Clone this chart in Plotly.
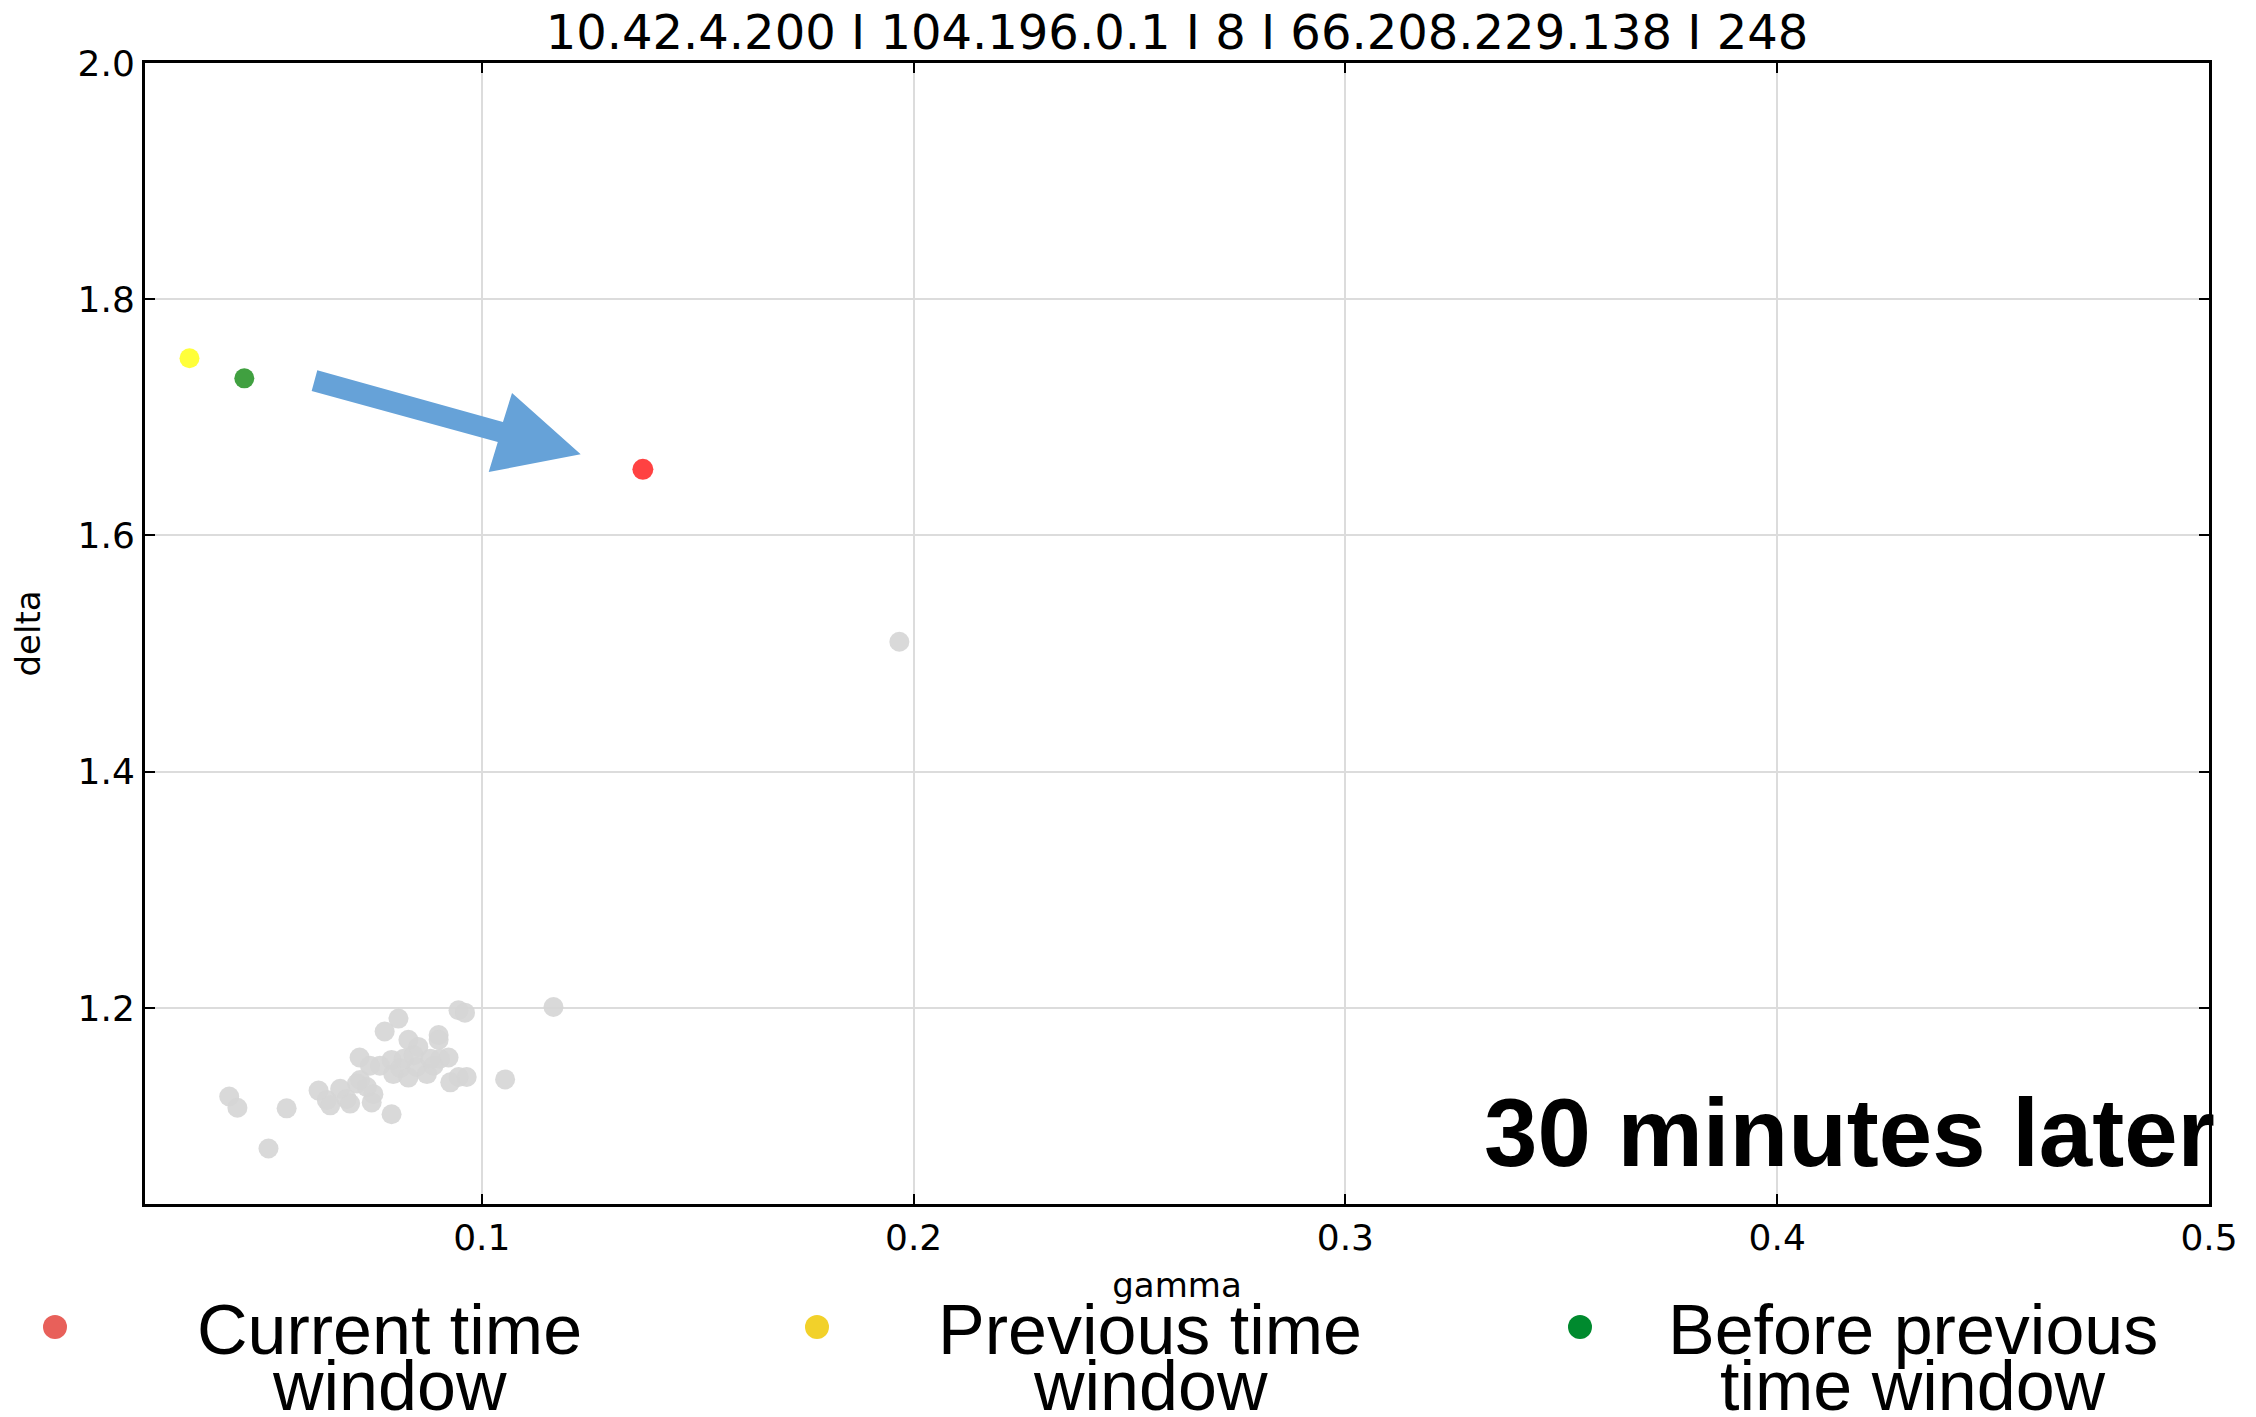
import plotly.graph_objects as go

# ---- data ----
bg_gamma = [0.1166, 0.0946, 0.0961, 0.0807, 0.0775, 0.0900, 0.0900, 0.0830, 0.0853, 0.0923,
            0.0717, 0.0791, 0.0764, 0.0741, 0.0811, 0.0849, 0.0888, 0.0903, 0.0795, 0.0830,
            0.0873, 0.0965, 0.0946, 0.0927, 0.1054, 0.0718, 0.0711, 0.0734, 0.0672, 0.0622,
            0.0641, 0.0649, 0.0687, 0.0695, 0.0749, 0.0745, 0.0791, 0.0548, 0.0415, 0.0434,
            0.0506, 0.0819, 0.0842, 0.0881, 0.1967]
bg_delta = [1.2008, 1.198, 1.196, 1.191, 1.180, 1.177, 1.173, 1.173, 1.167, 1.158,
            1.158, 1.156, 1.151, 1.151, 1.149, 1.150, 1.151, 1.157, 1.144, 1.141,
            1.144, 1.1415, 1.1415, 1.137, 1.1395, 1.139, 1.136, 1.133, 1.1316, 1.130,
            1.122, 1.1175, 1.123, 1.119, 1.127, 1.120, 1.110, 1.115, 1.125, 1.1155,
            1.081, 1.157, 1.160, 1.157, 1.510]

current_gamma, current_delta = [0.1373], [1.656]
previous_gamma, previous_delta = [0.0323], [1.750]
before_gamma, before_delta = [0.0450], [1.733]

x_ticks = [0.1, 0.2, 0.3, 0.4, 0.5]
y_ticks = [1.2, 1.4, 1.6, 1.8, 2.0]
x_range = [0.022, 0.5]
y_range = [1.034, 2.0]

title_text = "10.42.4.200 I 104.196.0.1 I 8 I 66.208.229.138 I 248"
legend_labels = [["Current time", "window"], ["Previous time", "window"], ["Before previous", "time window"]]
legend_colors = ["#e8605a", "#f2d12a", "#008a2e"]

# arrow outline (data coordinates)
arrow_x = [0.0619, 0.1049, 0.1070, 0.1229, 0.1016, 0.1037, 0.0606]
arrow_y = [1.7399, 1.6961, 1.7206, 1.6687, 1.6537, 1.6791, 1.7223]

# ---- layout geometry (page pixels; page body has an 8px margin) ----
OFF = 8
FIG_W, FIG_H = 2256 - OFF, 1417 - OFF
W_L, W_R, H_T, H_B = 145, 2209, 63, 1204   # plot area in page pixels
pw, ph = W_R - W_L, H_B - H_T
def px(X):
    return (X - W_L) / pw
def py(Y):
    return (H_B - Y) / ph

# ---- figure ----
fig = go.Figure()
fig.add_trace(go.Scatter(x=bg_gamma, y=bg_delta, mode="markers",
                         marker=dict(size=20, color="#d5d5d5", opacity=0.9, line=dict(width=0)),
                         showlegend=False, hoverinfo="skip"))
fig.add_trace(go.Scatter(x=before_gamma, y=before_delta, mode="markers",
                         marker=dict(size=20, color="#40a040", line=dict(width=0)), showlegend=False))
fig.add_trace(go.Scatter(x=previous_gamma, y=previous_delta, mode="markers",
                         marker=dict(size=20, color="#ffff3a", line=dict(width=0)), showlegend=False))
fig.add_trace(go.Scatter(x=current_gamma, y=current_delta, mode="markers",
                         marker=dict(size=21, color="#ff4242", line=dict(width=0)), showlegend=False))

path = "M " + " L ".join(f"{x},{y}" for x, y in zip(arrow_x, arrow_y)) + " Z"
shapes = [dict(type="path", path=path, xref="x", yref="y", fillcolor="#66a2d8",
               line=dict(width=0), layer="above")]

annotations = []
legend_text_x = [389, 1150, 1913]
legend_dot_x = [55, 817, 1580]
for (l1, l2), c, tx, dx in zip(legend_labels, legend_colors, legend_text_x, legend_dot_x):
    shapes.append(dict(type="circle", xref="paper", yref="paper", xsizemode="pixel", ysizemode="pixel",
                       xanchor=px(dx), yanchor=py(1327), x0=-12, x1=12, y0=-12, y1=12,
                       fillcolor=c, line=dict(width=0)))
    annotations.append(dict(text=l1, x=px(tx), y=py(1330), xref="paper", yref="paper",
                            xanchor="center", yanchor="middle", showarrow=False,
                            font=dict(family="Liberation Sans", size=70, color="black")))
    annotations.append(dict(text=l2, x=px(tx), y=py(1386), xref="paper", yref="paper",
                            xanchor="center", yanchor="middle", showarrow=False,
                            font=dict(family="Liberation Sans", size=70, color="black")))

annotations.append(dict(text="<b>30 minutes later</b>", x=px(2217), y=py(1132), xref="paper", yref="paper",
                        xanchor="right", yanchor="middle", showarrow=False,
                        font=dict(family="Liberation Sans", size=96, color="black")))

axis_common = dict(showline=True, linecolor="black", linewidth=3, mirror="allticks",
                   ticks="inside", ticklen=10, tickcolor="black", tickwidth=1.5,
                   showgrid=True, gridcolor="#dcdcdc", gridwidth=1.5, zeroline=False,
                   tickfont=dict(family="DejaVu Sans", size=36, color="black"))

fig.update_layout(
    width=FIG_W, height=FIG_H,
    paper_bgcolor="white", plot_bgcolor="white",
    margin=dict(l=W_L - OFF, r=2256 - W_R, t=H_T - OFF, b=1417 - H_B),
    title=dict(text=title_text, x=0.5, xref="paper", y=1 - (32 - OFF) / FIG_H, yanchor="middle",
               font=dict(family="DejaVu Sans", size=48, color="black")),
    xaxis=dict(range=x_range, tickvals=x_ticks, ticktext=[str(v) for v in x_ticks],
               title=dict(text="gamma", standoff=16, font=dict(family="DejaVu Sans", size=34, color="black")),
               **axis_common),
    yaxis=dict(range=y_range, tickvals=y_ticks, ticktext=[f"{v:.1f}" for v in y_ticks],
               title=dict(text="delta", standoff=28, font=dict(family="DejaVu Sans", size=34, color="black")),
               **axis_common),
    shapes=shapes, annotations=annotations, showlegend=False,
)

fig.write_html("out.html")
